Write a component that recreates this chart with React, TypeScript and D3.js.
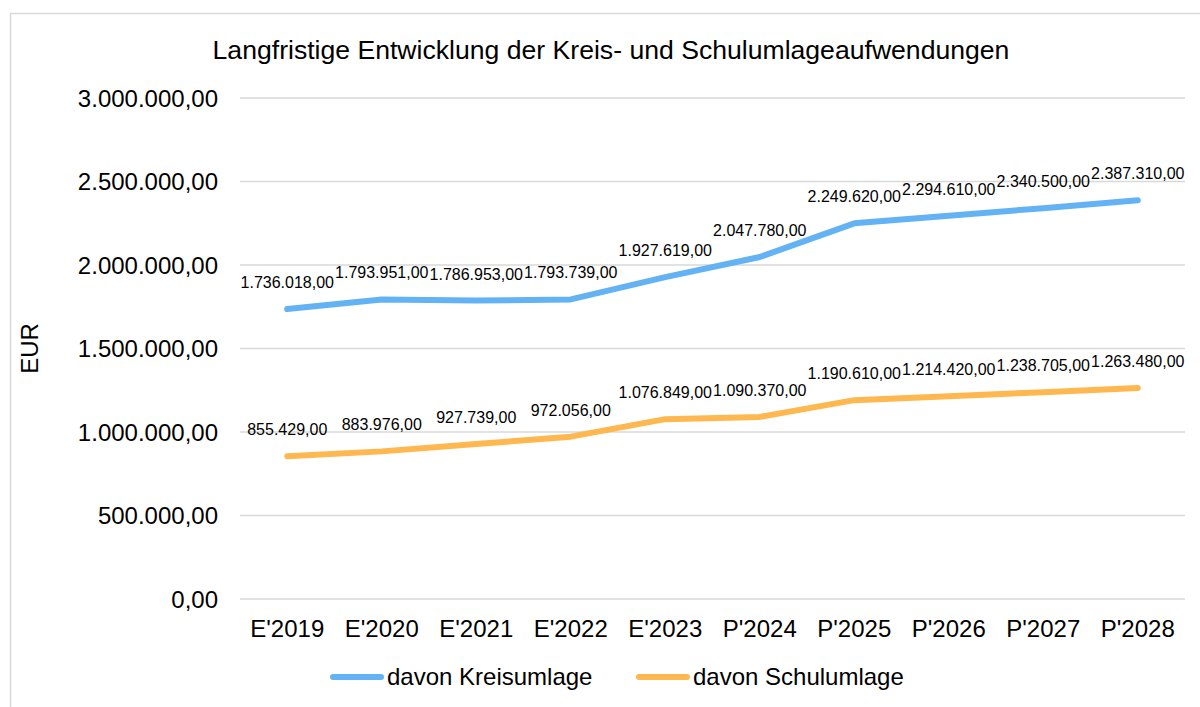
import React from "react";
import * as d3 from "d3";

const categories = ["E'2019", "E'2020", "E'2021", "E'2022", "E'2023", "P'2024", "P'2025", "P'2026", "P'2027", "P'2028"];
const kreisumlage = [1736018, 1793951, 1786953, 1793739, 1927619, 2047780, 2249620, 2294610, 2340500, 2387310];
const schulumlage = [855429, 883976, 927739, 972056, 1076849, 1090370, 1190610, 1214420, 1238705, 1263480];
const yTicks = [0, 500000, 1000000, 1500000, 2000000, 2500000, 3000000];
const seriesNames = ["davon Kreisumlage", "davon Schulumlage"];
const seriesColors = ["#63B3F4", "#FFB74F"];

const de = d3.formatLocale({ decimal: ",", thousands: ".", grouping: [3], currency: ["", "€"] });
const fmt = de.format(",.2f");

export default function App() {
  const W = 1200, H = 707;
  const left = 240, right = 1185, top = 98, bottom = 599;
  const x = d3.scaleBand<string>().domain(categories).range([left, right]);
  const y = d3.scaleLinear().domain([0, 3000000]).range([bottom, top]);
  const cx = (c: string) => (x(c) as number) + x.bandwidth() / 2;
  const line = d3.line<number>().x((_, i) => cx(categories[i])).y((d) => y(d));
  const font = "'Liberation Sans', Arial, sans-serif";
  const series = [kreisumlage, schulumlage];

  return (
    <svg width={W} height={H} style={{ position: "absolute", left: 0, top: 0, background: "#fff" }} fontFamily={font}>
      <rect x={10.5} y={13.5} width={1220} height={720} fill="#fff" stroke="#d9d9d9" strokeWidth={1.5} />
      <text x={611} y={59} textAnchor="middle" fontSize={26.6} fill="#000">
        Langfristige Entwicklung der Kreis- und Schulumlageaufwendungen
      </text>
      {yTicks.map((t) => (
        <g key={t}>
          <line x1={left} x2={right} y1={y(t)} y2={y(t)} stroke="#d9d9d9" strokeWidth={1.5} />
          <text x={218} y={y(t) + 8.5} textAnchor="end" fontSize={24} fill="#000">{fmt(t)}</text>
        </g>
      ))}
      {categories.map((c) => (
        <text key={c} x={cx(c)} y={637} textAnchor="middle" fontSize={24} fill="#000">{c}</text>
      ))}
      <text transform={`translate(38,${(top + bottom) / 2}) rotate(-90)`} textAnchor="middle" fontSize={24} fill="#000">EUR</text>
      {series.map((s, si) => (
        <g key={si}>
          <path d={line(s) as string} fill="none" stroke={seriesColors[si]} strokeWidth={6} strokeLinecap="round" strokeLinejoin="round" />
          {s.map((v, i) => (
            <text key={i} x={cx(categories[i])} y={y(v) - 21} textAnchor="middle" fontSize={16} fill="#000">{fmt(v)}</text>
          ))}
        </g>
      ))}
      {seriesNames.map((n, i) => {
        const lx = i === 0 ? 330 : 636;
        return (
          <g key={n}>
            <line x1={lx + 3} x2={lx + 51} y1={677} y2={677} stroke={seriesColors[i]} strokeWidth={6} strokeLinecap="round" />
            <text x={lx + 57} y={685} fontSize={24} fill="#000">{n}</text>
          </g>
        );
      })}
    </svg>
  );
}
